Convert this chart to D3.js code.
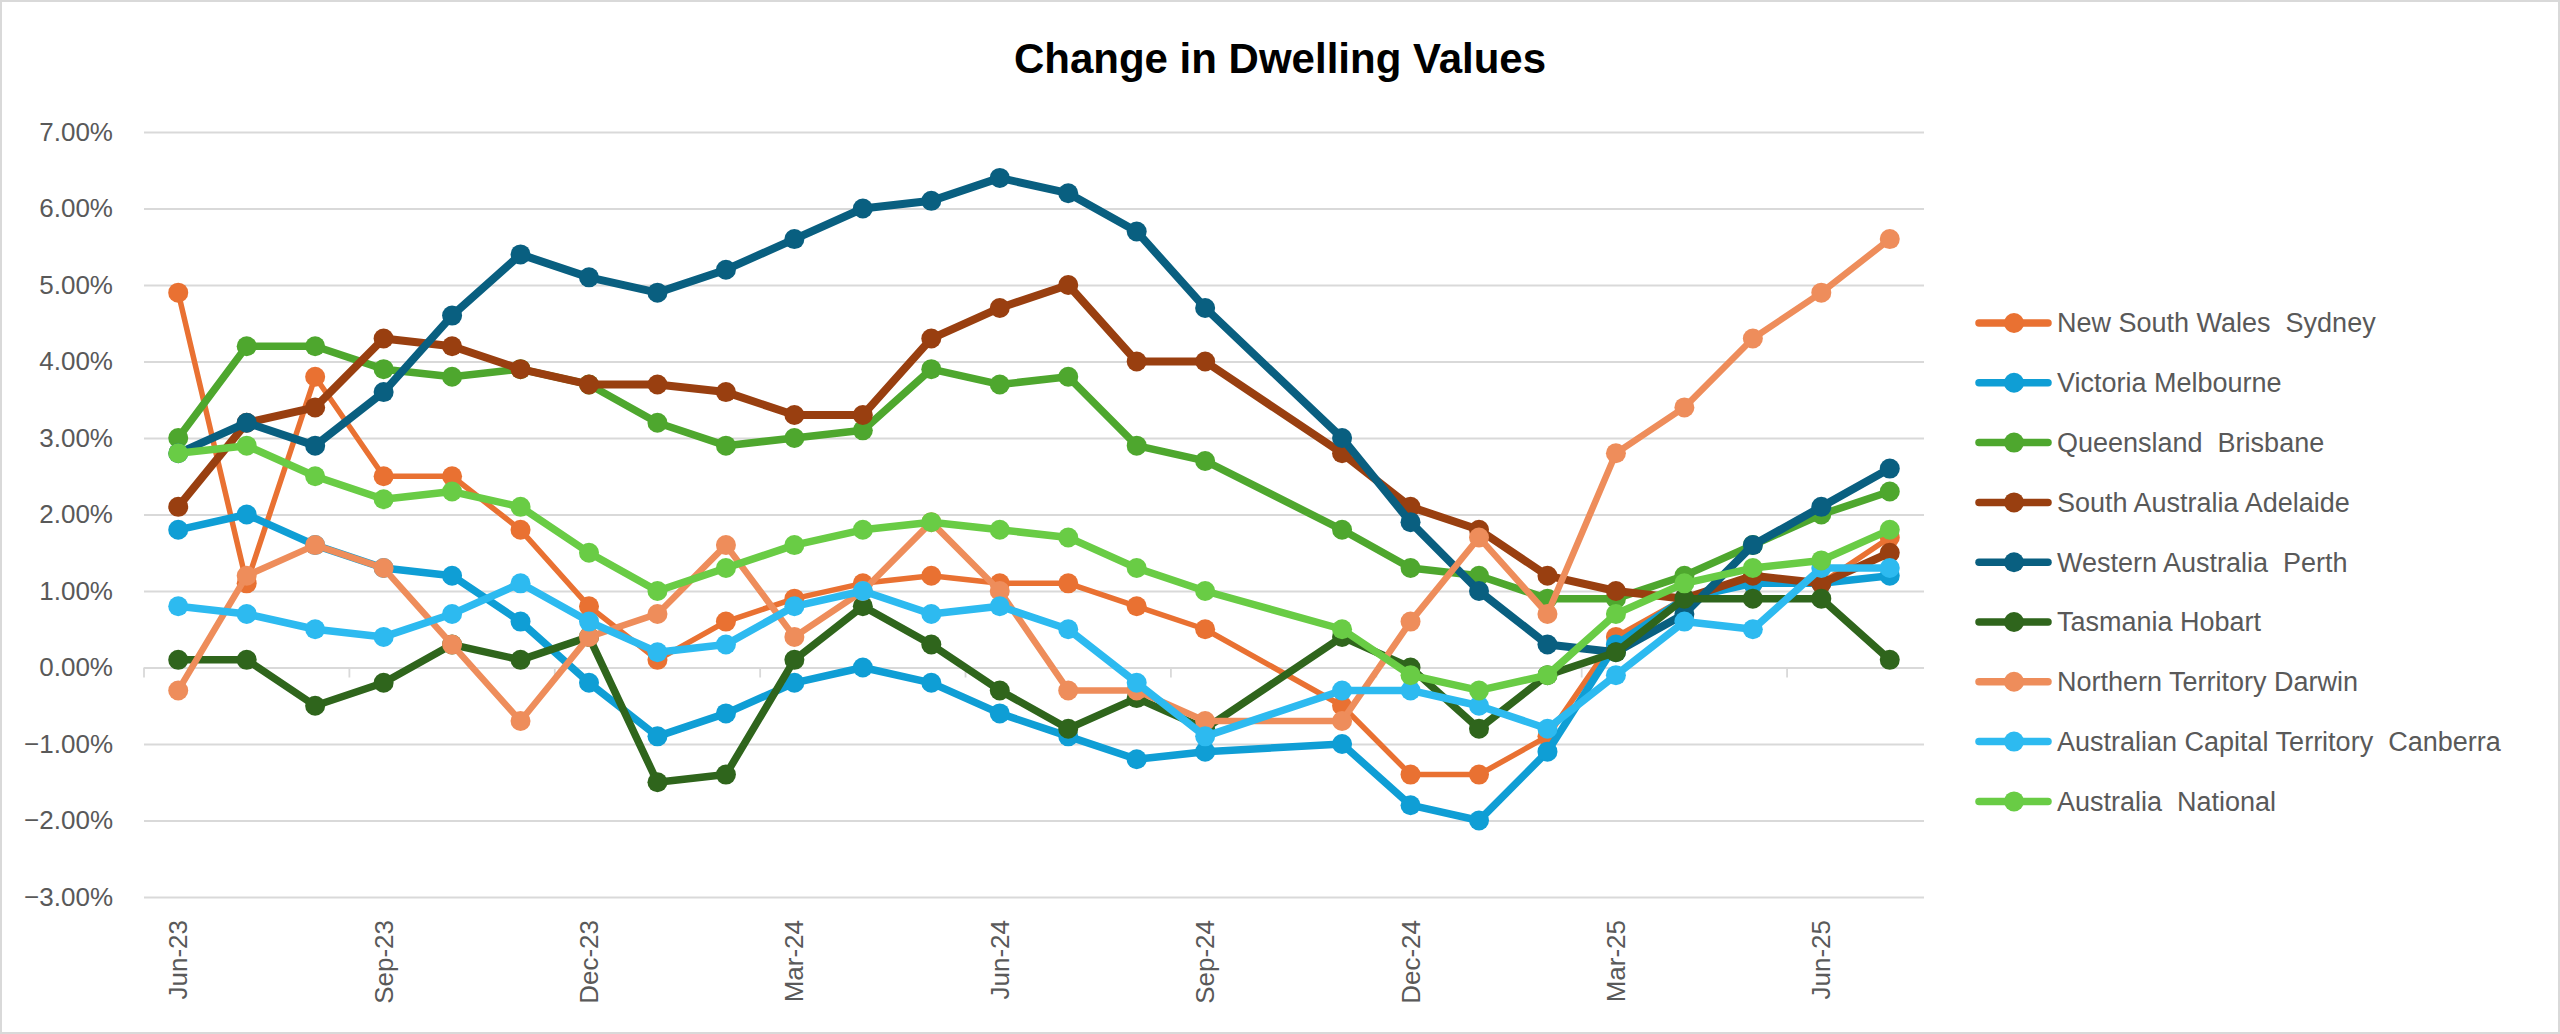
<!DOCTYPE html>
<html>
<head>
<meta charset="utf-8">
<script src="https://cdn.jsdelivr.net/npm/d3@7"></script>
<style>
  body { margin: 0; background: #ffffff; }
  svg { display: block; font-family: "Liberation Sans", Arial, sans-serif; }
</style>
</head>
<body>
<svg id="drawing_region"></svg>
<script>
// months on the category axis (Oct-24 has no value in any series)
const months = ['Jun-23','Jul-23','Aug-23','Sep-23','Oct-23','Nov-23','Dec-23','Jan-24','Feb-24','Mar-24',
    'Apr-24','May-24','Jun-24','Jul-24','Aug-24','Sep-24','Oct-24','Nov-24','Dec-24','Jan-25',
    'Feb-25','Mar-25','Apr-25','May-25','Jun-25','Jul-25'];

const seriesNames = ['New South Wales  Sydney','Victoria Melbourne','Queensland  Brisbane','South Australia Adelaide',
    'Western Australia  Perth','Tasmania Hobart','Northern Territory Darwin','Australian Capital Territory  Canberra',
    'Australia  National'];

const sydney    = [4.9, 1.1, 3.8, 2.5, 2.5, 1.8, 0.8, 0.1, 0.6, 0.9, 1.1, 1.2, 1.1, 1.1, 0.8, 0.5, null, -0.5, -1.4, -1.4, -0.9, 0.4, 0.9, 1.1, 1.1, 1.7];
const melbourne = [1.8, 2.0, 1.6, 1.3, 1.2, 0.6, -0.2, -0.9, -0.6, -0.2, 0.0, -0.2, -0.6, -0.9, -1.2, -1.1, null, -1.0, -1.8, -2.0, -1.1, 0.3, 0.9, 1.1, 1.1, 1.2];
const brisbane  = [3.0, 4.2, 4.2, 3.9, 3.8, 3.9, 3.7, 3.2, 2.9, 3.0, 3.1, 3.9, 3.7, 3.8, 2.9, 2.7, null, 1.8, 1.3, 1.2, 0.9, 0.9, 1.2, 1.6, 2.0, 2.3];
const adelaide  = [2.1, 3.2, 3.4, 4.3, 4.2, 3.9, 3.7, 3.7, 3.6, 3.3, 3.3, 4.3, 4.7, 5.0, 4.0, 4.0, null, 2.8, 2.1, 1.8, 1.2, 1.0, 0.9, 1.2, 1.1, 1.5];
const perth     = [2.8, 3.2, 2.9, 3.6, 4.6, 5.4, 5.1, 4.9, 5.2, 5.6, 6.0, 6.1, 6.4, 6.2, 5.7, 4.7, null, 3.0, 1.9, 1.0, 0.3, 0.2, 0.7, 1.6, 2.1, 2.6];
const hobart    = [0.1, 0.1, -0.5, -0.2, 0.3, 0.1, 0.4, -1.5, -1.4, 0.1, 0.8, 0.3, -0.3, -0.8, -0.4, -0.8, null, 0.4, 0.0, -0.8, -0.1, 0.2, 0.9, 0.9, 0.9, 0.1];
const darwin    = [-0.3, 1.2, 1.6, 1.3, 0.3, -0.7, 0.4, 0.7, 1.6, 0.4, 1.0, 1.9, 1.0, -0.3, -0.3, -0.7, null, -0.7, 0.6, 1.7, 0.7, 2.8, 3.4, 4.3, 4.9, 5.6];
const canberra  = [0.8, 0.7, 0.5, 0.4, 0.7, 1.1, 0.6, 0.2, 0.3, 0.8, 1.0, 0.7, 0.8, 0.5, -0.2, -0.9, null, -0.3, -0.3, -0.5, -0.8, -0.1, 0.6, 0.5, 1.3, 1.3];
const national  = [2.8, 2.9, 2.5, 2.2, 2.3, 2.1, 1.5, 1.0, 1.3, 1.6, 1.8, 1.9, 1.8, 1.7, 1.3, 1.0, null, 0.5, -0.1, -0.3, -0.1, 0.7, 1.1, 1.3, 1.4, 1.8];

const yTicks = [-3, -2, -1, 0, 1, 2, 3, 4, 5, 6, 7];

const colors = ['#E97132','#0F9ED5','#4EA72E','#993F10','#095F80','#2F651C','#EE8D5B','#2DBAF0','#69CC45'];
const widths = [5.5, 7.5, 7.5, 8, 8, 7.5, 6.5, 7.5, 7.5];

const allValues = [sydney, melbourne, brisbane, adelaide, perth, hobart, darwin, canberra, national];

const config = {
    width: 2560,
    height: 1034,
    plot: {left: 144, right: 1924, top: 132, bottom: 897},
    title: 'Change in Dwelling Values'
};

const svg = d3.select('#drawing_region')
    .attr('width', config.width)
    .attr('height', config.height);

svg.append('rect')
    .attr('x', 1).attr('y', 1)
    .attr('width', config.width - 2).attr('height', config.height - 2)
    .attr('fill', '#ffffff')
    .attr('stroke', '#d9d9d9')
    .attr('stroke-width', 2);

const xscale = d3.scaleBand()
    .domain(months)
    .range([config.plot.left, config.plot.right]);

const yscale = d3.scaleLinear()
    .domain([-3, 7])
    .range([config.plot.bottom, config.plot.top]);

const cx = m => xscale(m) + xscale.bandwidth() / 2;

// gridlines + y labels
const yaxis = d3.axisLeft(yscale)
    .tickValues(yTicks)
    .tickSize(-(config.plot.right - config.plot.left))
    .tickPadding(31)
    .tickFormat(d => d3.format('.2f')(d) + '%');

const yaxis_group = svg.append('g')
    .attr('transform', `translate(${config.plot.left}, 0)`)
    .call(yaxis);
yaxis_group.select('.domain').remove();
yaxis_group.selectAll('.tick line')
    .attr('stroke', '#d9d9d9')
    .attr('stroke-width', 1.8);
yaxis_group.selectAll('.tick text')
    .attr('fill', '#595959')
    .style('font-size', '26px')
    .attr('x', 113 - config.plot.left);

// category axis crossing at 0%
const y0 = yscale(0);
const xaxis_group = svg.append('g');
xaxis_group.selectAll('line.xtick')
    .data(months.filter((m, i) => i % 3 === 0))
    .enter()
    .append('line')
    .attr('class', 'xtick')
    .attr('x1', d => xscale(d)).attr('x2', d => xscale(d))
    .attr('y1', y0).attr('y2', y0 + 10)
    .attr('stroke', '#d9d9d9')
    .attr('stroke-width', 1.8);

xaxis_group.selectAll('text')
    .data(months.filter((m, i) => i % 3 === 0))
    .enter()
    .append('text')
    .attr('transform', d => `translate(${cx(d)}, 920) rotate(-90)`)
    .attr('text-anchor', 'end')
    .attr('dy', '0.35em')
    .attr('fill', '#595959')
    .style('font-size', '26px')
    .text(d => d);

// series
const line = d3.line()
    .x(d => cx(d.month))
    .y(d => yscale(d.value));

allValues.forEach((vals, s) => {
    const pts = months.map((m, i) => ({month: m, value: vals[i]})).filter(d => d.value !== null);
    const g = svg.append('g');
    g.append('path')
        .datum(pts)
        .attr('d', line)
        .attr('fill', 'none')
        .attr('stroke', colors[s])
        .attr('stroke-width', widths[s])
        .attr('stroke-linejoin', 'round');
    g.selectAll('circle')
        .data(pts)
        .enter()
        .append('circle')
        .attr('cx', d => cx(d.month))
        .attr('cy', d => yscale(d.value))
        .attr('r', 10)
        .attr('fill', colors[s]);
});

// title
svg.append('text')
    .attr('x', config.width / 2)
    .attr('y', 73)
    .attr('text-anchor', 'middle')
    .style('font-size', '42px')
    .style('font-weight', 'bold')
    .attr('fill', '#000000')
    .text(config.title);

// legend
const legend = svg.append('g');
const rows = legend.selectAll('g')
    .data(seriesNames)
    .enter()
    .append('g')
    .attr('transform', (d, i) => `translate(0, ${323 + i * 59.8})`);
rows.append('line')
    .attr('x1', 1979).attr('x2', 2048)
    .attr('y1', 0).attr('y2', 0)
    .attr('stroke', (d, i) => colors[i])
    .attr('stroke-width', 7.5)
    .attr('stroke-linecap', 'round');
rows.append('circle')
    .attr('cx', 2014).attr('cy', 0).attr('r', 10)
    .attr('fill', (d, i) => colors[i]);
rows.append('text')
    .attr('x', 2057)
    .attr('y', 0)
    .attr('dy', '0.35em')
    .attr('fill', '#595959')
    .style('font-size', '27px')
    .style('white-space', 'pre')
    .text(d => d);
</script>
</body>
</html>
